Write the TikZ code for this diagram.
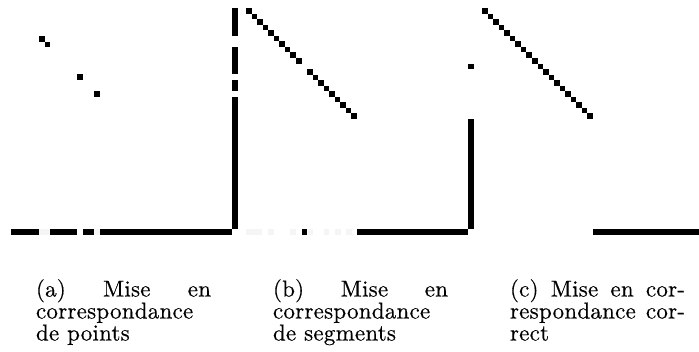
\documentclass[tikz,border=0pt]{standalone}
\usepackage{graphicx}
\usepackage{fontspec}
\setmainfont{Latin Modern Roman}[LetterSpace=1,FakeBold=0.4]
\newcommand\jline[1]{\scalebox{2.3}{\fontsize{10}{12}\selectfont\makebox[76.1pt][s]{#1}}}
\newcommand\rline[1]{\scalebox{2.3}{\fontsize{10}{12}\selectfont #1}}
\begin{document}
\begin{tikzpicture}[x=1pt,y=-1pt,
  px/.style={fill=black},
  faint/.style={fill=black!4},
  captxt/.style={anchor=base west,inner sep=0pt,outer sep=0pt}]
\useasboundingbox[fill=white] (0,0) rectangle (699,351);

% ---------- (a) point matching ----------
\fill[px] (39,36) rectangle (44.5,41.5);
\fill[px] (44.5,41.5) rectangle (50,47);
\fill[px] (77,74) rectangle (83,80);
\fill[px] (94,91) rectangle (100,97);
% vertical bar shared by (a) and (b)
\fill[px] (232,8) rectangle (238,36);
\fill[px] (232,47) rectangle (238,74);
\fill[px] (232,80) rectangle (238,91);
\fill[px] (232,97) rectangle (238,229);
% horizontal bar (a)
\fill[px] (11,229) rectangle (39,235);
\fill[faint] (39,229) rectangle (50,235);
\fill[px] (50,229) rectangle (77,235);
\fill[px] (83,229) rectangle (94,235);
\fill[faint] (94,229) rectangle (100,235);
\fill[px] (100,229) rectangle (232,235);

% ---------- (b) segment matching ----------
\foreach \i in {0,...,9,11,12,...,19}
  \fill[px] ({246+\i*5.55},{8+\i*5.55}) rectangle ++(5.55,5.55);
\foreach \a/\b in {246/262,268/274,290/296,308/313,324/329,335/341,346/352}
  \fill[faint] (\a,229) rectangle (\b,235);
\fill[px] (301.5,229) rectangle (307,235);
\fill[px] (357,229) rectangle (468,235);

% ---------- (c) correct matching ----------
\foreach \i in {0,...,19}
  \fill[px] ({482+\i*5.55},{8+\i*5.55}) rectangle ++(5.55,5.55);
\fill[px] (468,63.5) rectangle (474,69);
\fill[px] (468,119) rectangle (474,229);
\fill[px] (593,229) rectangle (699,235);

% ---------- captions ----------
\node[captxt] (a1) at (36,296.5) {\jline{(a) Mise en}};
\node[captxt] (a2) at (36,318.5) {\rline{correspondance}};
\node[captxt] (a3) at (36,340.5) {\rline{de points}};
\node[captxt] (b1) at (273,296.5) {\jline{(b) Mise en}};
\node[captxt] (b2) at (273,318.5) {\rline{correspondance}};
\node[captxt] (b3) at (273,340.5) {\rline{de segments}};
\node[captxt] (c1) at (510,296.5) {\jline{(c) Mise en cor-}};
\node[captxt] (c2) at (510,318.5) {\jline{respondance cor-}};
\node[captxt] (c3) at (510,340.5) {\rline{rect}};
\end{tikzpicture}
\end{document}
